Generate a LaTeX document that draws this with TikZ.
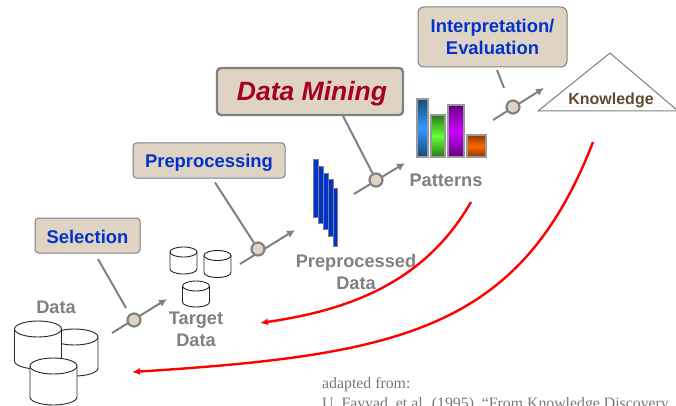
\documentclass[tikz,border=0pt]{standalone}
\usepackage{fontspec}
\setmainfont{Liberation Sans}
\newfontfamily\timesf{Liberation Serif}
\usetikzlibrary{arrows.meta}
\definecolor{boxfill}{HTML}{DFD3C3}
\definecolor{gtext}{HTML}{808080}
\definecolor{blu}{HTML}{0033CC}
\definecolor{minered}{HTML}{A50021}
\definecolor{brownt}{HTML}{5F4B32}
\definecolor{citeg}{HTML}{777777}
\tikzset{
  x=1pt,y=-1pt,
  stepbox/.style={draw=gtext,fill=boxfill,rounded corners=3.5pt,line width=1pt,inner sep=0pt,align=center,font=\fontsize{18.4}{21.5}\selectfont\bfseries,text=blu},
  graylabel/.style={font=\fontsize{18.2}{21.5}\selectfont\bfseries,text=gtext,align=center,inner sep=0pt},
  feed/.style={draw=gtext,line width=2pt},
  flow/.style={draw=gtext,line width=2pt,-{Latex[length=8pt,width=8pt]}},
  joint/.style={circle,draw=gtext,fill=boxfill,line width=2.2pt,minimum size=13pt,inner sep=0pt},
  redarrow/.style={draw=red,line width=2.4pt,-{Latex[length=8pt,width=7pt]}},
  stack/.style={draw=gtext,fill=blu,line width=1pt},
  cyl/.style={draw=black!85,fill=white,line width=0.9pt},
  chartbar/.style={draw=gtext!80,line width=1.2pt},
  citetext/.style={anchor=base west,inner sep=0pt,font=\timesf\fontsize{15.8}{18}\selectfont,text=citeg}
}
\newcommand{\dnshift}[2]{\raisebox{-#1}[\height][\depth]{#2}}
\newcommand{\cylinder}[5]{% cx, top, bottom, rx, ry
  \path[cyl] (#1-#4,#2) -- (#1-#4,#3) arc[start angle=180,end angle=360,x radius=#4,y radius=-#5] -- (#1+#4,#2);
  \path[cyl] (#1,#2) ellipse[x radius=#4,y radius=#5];
}
\begin{document}
\begin{tikzpicture}
\useasboundingbox (0,0) rectangle (676,406);
\clip (0,0) rectangle (676,406);
% boxes
\node[stepbox,minimum width=105pt,minimum height=35pt] (sel) at (87.5,235.5) {\dnshift{1pt}{Selection}};
\node[stepbox,minimum width=152pt,minimum height=35pt] (pre) at (209,160.5) {\dnshift{2.5pt}{Preprocessing}};
\node[stepbox,minimum width=186pt,minimum height=47pt,line width=2.4pt,rounded corners=4pt,font=\fontsize{26.5}{30}\selectfont\bfseries\itshape,text=minered] (dm) at (310,91.5) {\hspace{4pt}\dnshift{2.5pt}{Data Mining}};
\node[stepbox,minimum width=149pt,minimum height=60pt,rounded corners=6pt] (int) at (492.5,37) {Interpretation/\\Evaluation};
% flow ends
\coordinate (a1) at (112,333); \coordinate (b1) at (167,299);
\coordinate (a2) at (240,264); \coordinate (b2) at (295,230);
\coordinate (a3) at (354,194); \coordinate (b3) at (405,163);
\coordinate (a4) at (493,120); \coordinate (b4) at (544,88);
\coordinate (f1) at (98,259);  \coordinate (g1) at (126,308);
\coordinate (f2) at (215,182.5); \coordinate (f3) at (343,116);
\coordinate (f4) at (497,70); \coordinate (g4) at (504,88);
\draw[flow] (a1) -- (b1);
\draw[flow] (a2) -- (b2);
\draw[flow] (a3) -- (b3);
\draw[flow] (a4) -- (b4);
% joints
\node[joint] (j1) at (134,320) {};
\node[joint] (j2) at (258,249) {};
\node[joint] (j3) at (376,180) {};
\node[joint] (j4) at (513,107) {};
\draw[feed] (f1) -- (g1);
\draw[feed] (f2) -- (j2);
\draw[feed] (f3) -- (j3);
\draw[feed] (f4) -- (g4);
% data cylinders
\cylinder{74.5}{337}{368}{23.5}{8}
\cylinder{38}{329}{361}{23.5}{8}
\cylinder{53.5}{366}{397}{23.5}{8}
\node[graylabel] (ldata) at (56,307) {Data};
% target cylinders
\cylinder{183.5}{252}{269}{13.5}{5}
\cylinder{217.5}{255.5}{272.5}{13.5}{5}
\cylinder{196}{286}{302}{13.5}{5}
\node[graylabel] (ltarget) at (196,329.5) {Target\\Data};
% preprocessed stack
\draw[stack] (313,159) rectangle (318,217);
\draw[stack] (318,166) rectangle (323,223);
\draw[stack] (323,173) rectangle (328,229);
\draw[stack] (328,179) rectangle (333,236);
\draw[stack] (333,188) rectangle (337.5,246);
\node[graylabel] (lpre) at (356,272) {Preprocessed\\Data};
% pattern bars
\definecolor{b1e}{HTML}{1A4A78}\definecolor{b1m}{HTML}{3399FF}
\definecolor{b2e}{HTML}{2A7A1A}\definecolor{b2m}{HTML}{66FF33}
\definecolor{b3e}{HTML}{660080}\definecolor{b3m}{HTML}{CC00FF}
\definecolor{b4e}{HTML}{8A3C00}\definecolor{b4m}{HTML}{FF6600}
\path[chartbar,top color=b1e,bottom color=b1e,middle color=b1m] (417,99) rectangle (428,157);
\path[chartbar,top color=b2e,bottom color=b2e,middle color=b2m] (431,115) rectangle (445,157);
\path[chartbar,top color=b3e,bottom color=b3e,middle color=b3m] (448,105) rectangle (464,157);
\path[chartbar,top color=b4e,bottom color=b4e,middle color=b4m] (467,135) rectangle (486,157);
\node[graylabel] (lpat) at (446,180) {Patterns};
% knowledge
\coordinate (ka) at (610,53); \coordinate (kb) at (538,111); \coordinate (kc) at (678,111);
\draw[draw=gtext,line width=1pt,fill=white] (ka) -- (kb) -- (kc) -- cycle;
\node[font=\fontsize{16}{18}\selectfont\bfseries,text=brownt,inner sep=0pt] (lk) at (611,100) {Knowledge};
% red arrows
\coordinate (r1s) at (471,202); \coordinate (r1e) at (260,323);
\coordinate (r2s) at (593,142); \coordinate (r2e) at (132,372);
\draw[redarrow] (r1s) .. controls (425,282) and (350,310) .. (r1e);
\draw[redarrow] (r2s) .. controls (520,330) and (400,355) .. (r2e);
% citation
\node[citetext] (c1) at (322,388) {adapted from:};
\node[citetext] (c2) at (322,408) {U. Fayyad, et al. (1995), “From Knowledge Discovery};
\end{tikzpicture}
\end{document}
